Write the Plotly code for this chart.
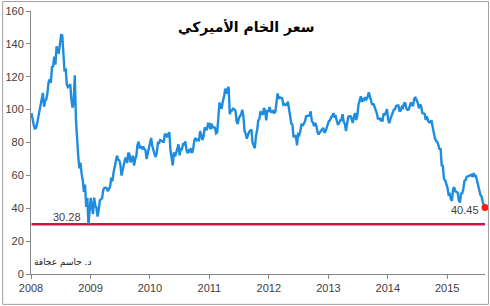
import pandas as pd
import plotly.graph_objects as go

# Weekly (Friday) WTI spot prices, USD/barrel
wti_2008 = [97.9, 92.7, 90.6, 88.5, 88.9, 91.8, 95.5, 98.8, 101.8, 105.2, 110.2, 101.8, 105.6,
            106.2, 110.1, 116.7, 118.5, 116.3, 126.0, 126.3, 132.2, 127.4, 138.5, 134.9, 134.6,
            140.2, 145.3, 145.1, 129.0, 123.3, 125.1, 115.2, 113.8, 114.6, 115.5, 106.2, 101.2,
            104.6, 120.9, 93.9, 77.7, 71.9, 64.2, 67.8, 61.0, 57.0, 49.9, 54.4, 40.8, 46.3,
            30.28, 37.7]
wti_2009 = [46.3, 40.8, 36.5, 46.5, 41.7, 40.2, 35.0, 38.9, 44.8, 45.5, 46.3, 51.1, 52.4,
            52.5, 52.2, 50.3, 51.6, 53.2, 58.6, 56.3, 61.7, 66.3, 68.4, 72.0, 69.6, 69.2,
            66.7, 59.9, 63.6, 68.1, 69.5, 70.9, 67.5, 73.9, 72.7, 68.0, 69.3, 72.0, 66.0,
            69.9, 71.8, 78.5, 80.5, 77.0, 77.4, 76.4, 77.5, 76.1, 75.5, 69.9, 73.4, 78.1]
wti_2010 = [79.4, 82.8, 78.0, 74.5, 72.9, 71.2, 74.1, 79.8, 79.7, 81.5, 81.2, 80.7, 80.0,
            84.9, 84.9, 83.2, 85.1, 86.2, 75.1, 71.6, 66.0, 74.0, 71.5, 73.8, 77.2, 78.9,
            72.1, 76.1, 76.0, 79.0, 78.9, 80.7, 75.4, 73.5, 75.2, 74.6, 76.5, 73.7, 76.5,
            81.6, 82.7, 81.3, 81.7, 81.4, 86.9, 84.9, 81.5, 83.8, 89.2, 87.8, 88.0, 91.5, 91.4]
wti_2011 = [88.0, 91.5, 89.1, 89.3, 89.0, 85.6, 86.2, 97.9, 104.4, 101.2, 101.1, 105.4,
            107.9, 112.8, 109.7, 112.3, 113.9, 97.2, 99.7, 99.5, 100.6, 100.2, 99.3, 93.0,
            91.2, 94.9, 96.2, 97.2, 99.9, 95.7, 86.9, 85.4, 82.3, 85.4, 86.5, 87.2, 87.9,
            79.9, 78.0, 76.5, 84.0, 87.4, 93.3, 94.3, 99.0, 97.4, 96.8, 101.0, 99.4, 93.5,
            99.7, 98.8]
wti_2012 = [101.6, 98.7, 98.5, 99.6, 97.8, 98.7, 103.2, 109.8, 106.7, 107.4, 107.1, 106.9,
            103.0, 103.3, 102.8, 103.1, 104.9, 98.5, 96.1, 91.5, 90.9, 83.2, 84.1, 84.0,
            78.2, 85.0, 84.5, 87.1, 91.4, 90.1, 91.4, 92.9, 96.0, 96.2, 96.5, 96.4, 99.0,
            92.9, 92.2, 89.9, 91.9, 90.1, 86.3, 84.9, 86.1, 86.9, 88.3, 88.9, 86.0, 86.7,
            88.7, 90.8]
wti_2013 = [93.1, 93.6, 95.6, 95.9, 97.8, 95.7, 95.9, 93.1, 90.7, 92.0, 93.5, 93.7, 97.2,
            92.7, 91.3, 87.0, 93.0, 95.6, 96.0, 96.0, 94.2, 92.0, 96.0, 97.9, 93.7, 96.6,
            103.2, 106.0, 108.1, 104.7, 106.9, 106.0, 107.5, 106.4, 107.7, 110.5, 108.2,
            104.7, 102.9, 103.8, 102.0, 100.8, 97.9, 94.6, 94.6, 93.8, 94.8, 92.7, 97.7,
            96.6, 99.3, 100.3]
wti_2014 = [94.0, 91.7, 94.4, 96.6, 97.5, 99.9, 100.3, 102.2, 102.6, 102.6, 98.9, 99.5,
            101.7, 101.1, 103.7, 104.3, 100.6, 99.8, 100.0, 102.0, 104.4, 102.7, 102.7,
            106.9, 107.3, 105.7, 104.1, 100.8, 103.1, 102.1, 97.9, 97.7, 97.4, 93.7, 96.0,
            93.3, 92.3, 92.4, 93.5, 89.7, 85.8, 82.8, 81.0, 80.5, 78.7, 75.8, 76.5, 66.2,
            65.8, 57.8, 57.1, 54.7]
wti_2015 = [52.7, 48.4, 48.7, 45.6, 44.5, 51.7, 52.8, 50.3, 49.8, 49.6, 44.8, 43.5, 48.9,
            49.1, 51.9, 56.7, 57.2, 59.2, 59.4, 59.7, 59.7, 60.3, 59.1, 61.4, 59.6, 59.6,
            56.9, 52.8, 50.9, 48.1, 47.1, 43.9, 42.5, 40.45]

wti_values = wti_2008 + wti_2009 + wti_2010 + wti_2011 + wti_2012 + wti_2013 + wti_2014 + wti_2015
first_friday = "2008-01-04"
dates = pd.date_range(first_friday, periods=len(wti_values), freq="W-FRI")

low_value = 30.28
last_value = wti_values[-1]
year_ticks = ["2008", "2009", "2010", "2011", "2012", "2013", "2014", "2015"]

title_text = "سعر الخام الأميركي"
author_text = "د. جاسم عجاقة"

BLUE = "#1F8DDF"
RED = "#CC1640"
AX = "#868686"
TXT = "#404040"
FONT = "Liberation Sans, Arial, sans-serif"

fig = go.Figure()
fig.add_trace(go.Scatter(x=dates, y=[low_value] * len(dates), mode="lines",
                         line=dict(color=RED, width=2.5), hoverinfo="skip"))
fig.add_trace(go.Scatter(x=dates, y=wti_values, mode="lines",
                         line=dict(color=BLUE, width=2.4)))
fig.add_trace(go.Scatter(x=[dates[-1]], y=[last_value], mode="markers",
                         marker=dict(color="#FF1A1A", size=7), cliponaxis=False))

fig.add_annotation(x="2008-08-08", y=low_value, yanchor="bottom", text=f"{low_value:.2f}",
                   showarrow=False, font=dict(family=FONT, size=11, color=TXT), yshift=-1)
fig.add_annotation(x="2015-04-22", y=38.8, text=f"{last_value:.2f}", showarrow=False,
                   font=dict(family=FONT, size=11, color=TXT))
fig.add_annotation(x="2008-07-12", y=7, text=author_text, showarrow=False,
                   font=dict(family="DejaVu Sans", size=9, color="#202020"))

fig.add_annotation(xref="paper", yref="paper", x=(245 - 29) / 456, y=(274 - 16) / 264,
                   text=f"<b>{title_text}</b>", showarrow=False,
                   font=dict(family="DejaVu Sans", size=14, color="#000000"))

fig.add_shape(type="rect", xref="paper", yref="paper",
              x0=(0.5 - 29) / 456, x1=(488.5 - 29) / 456,
              y0=(274 - 304.5) / 264, y1=(274 - 0.5) / 264,
              line=dict(color="#A0A0A0", width=1))

fig.update_layout(
    width=490, height=306,
    margin=dict(l=29, r=5, t=10, b=32),
    paper_bgcolor="white", plot_bgcolor="white",
    showlegend=False,
    xaxis=dict(range=["2008-01-01", dates[-1]], tickvals=[f"{y}-01-01" for y in year_ticks],
               ticktext=year_ticks, showgrid=False, zeroline=False, showline=True,
               linecolor=AX, linewidth=1, ticks="outside", ticklen=4, tickcolor=AX,
               tickfont=dict(family=FONT, size=11, color=TXT)),
    yaxis=dict(range=[0, 160], tickvals=list(range(0, 161, 20)), showgrid=False,
               zeroline=False, showline=True, linecolor=AX, linewidth=1,
               ticks="outside", ticklen=4, tickcolor=AX,
               tickfont=dict(family=FONT, size=11, color=TXT)),
)

fig.write_html("out.html")
